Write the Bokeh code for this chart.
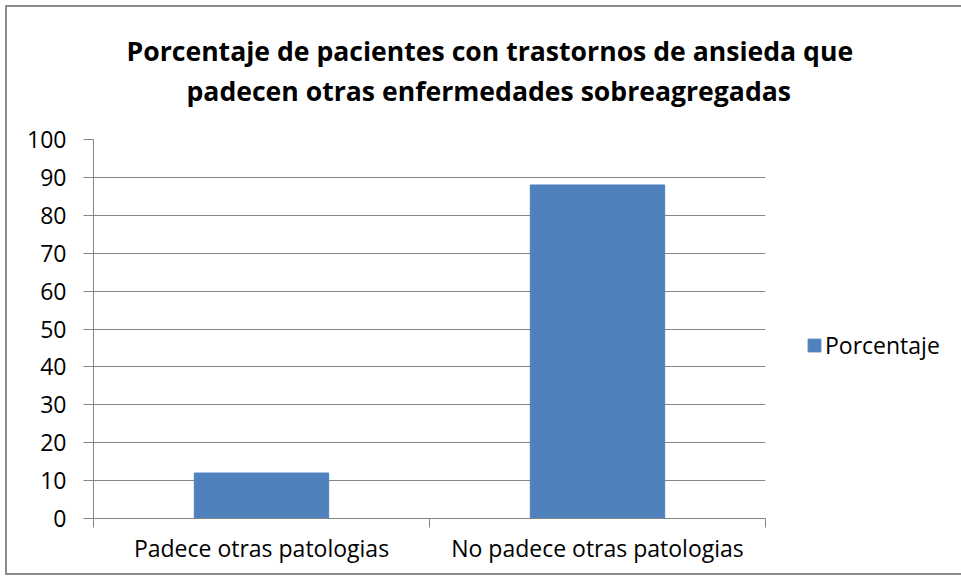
from bokeh.plotting import figure
from bokeh.models import Range1d, FixedTicker, Legend, LegendItem, Title, ColumnDataSource
from bokeh.embed import file_html
from bokeh.resources import INLINE

categories = ["Padece otras patologias", "No padece otras patologias"]
values = [12, 88]
series_name = "Porcentaje"
y_ticks = [0, 10, 20, 30, 40, 50, 60, 70, 80, 90, 100]
title_lines = ["Porcentaje de pacientes con trastornos de ansieda que",
               "padecen otras enfermedades sobreagregadas"]

FONT = "Open Sans"
GRAY = "#868686"
BAR = "#4F81BD"

centers = [i + 0.5 for i in range(len(categories))]
bounds = [float(i) for i in range(len(categories) + 1)]
src = ColumnDataSource(dict(x=centers, top=values))

p = figure(title=None, output_backend="svg", toolbar_location=None,
           x_range=Range1d(0, len(categories)), y_range=Range1d(y_ticks[0], y_ticks[-1]),
           frame_width=672, frame_height=379,
           min_border_left=86, min_border_right=190, min_border_top=132, min_border_bottom=55)
p.outline_line_color = None
p.background_fill_color = "white"
p.border_fill_color = "white"
p.styles = {"border": "2px solid #8c8c8c", "margin-left": "5px", "margin-top": "5px",
            "width": "fit-content"}

r = p.vbar(x="x", top="top", width=0.4, source=src, fill_color=BAR, line_color=BAR)

# x axis
xa = p.xaxis[0]
xa.ticker = FixedTicker(ticks=centers, minor_ticks=bounds)
xa.major_label_overrides = {c: lab for c, lab in zip(centers, categories)}
xa.major_tick_line_color = None
xa.major_tick_out = 0
xa.major_tick_in = 0
xa.minor_tick_out = 9
xa.minor_tick_in = 0
xa.minor_tick_line_color = GRAY
xa.axis_line_color = GRAY
xa.major_label_text_font = FONT
xa.major_label_text_font_size = "23px"
xa.major_label_text_color = "black"
xa.major_label_standoff = 4
p.xgrid.grid_line_color = None

# y axis
ya = p.yaxis[0]
ya.ticker = FixedTicker(ticks=y_ticks)
ya.minor_tick_line_color = None
ya.major_tick_out = 10
ya.major_tick_in = 0
ya.major_tick_line_color = GRAY
ya.axis_line_color = GRAY
ya.major_label_text_font = FONT
ya.major_label_text_font_size = "23px"
ya.major_label_text_color = "black"
ya.major_label_standoff = 17
p.ygrid.ticker = FixedTicker(ticks=y_ticks)
p.ygrid.grid_line_color = GRAY

legend = Legend(items=[LegendItem(label=series_name, renderers=[r])],
                location=(41, 157), orientation="vertical",
                border_line_color=None, background_fill_alpha=0,
                label_text_font=FONT, label_text_font_size="23px", label_text_color="black",
                glyph_width=16, glyph_height=16, label_standoff=3, padding=0, margin=0)
p.add_layout(legend, "right")

t2 = Title(text=title_lines[1], align="left", offset=93, text_font=FONT,
           text_font_size="26.6px", text_font_style="bold", text_color="black", standoff=61)
t1 = Title(text=title_lines[0], align="left", offset=33, text_font=FONT,
           text_font_size="26.6px", text_font_style="bold", text_color="black", standoff=-56)
p.add_layout(t2, "above")
p.add_layout(t1, "above")

open("out.html", "w").write(file_html(p, INLINE))
